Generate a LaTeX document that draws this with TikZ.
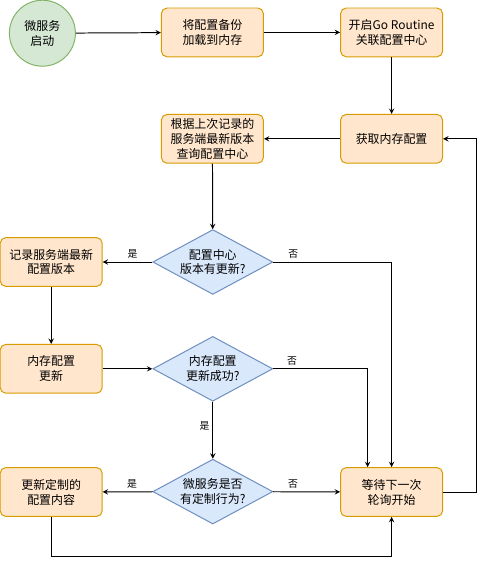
\documentclass[tikz,border=0pt]{standalone}
\usepackage{fontspec}
\setmainfont{Noto Sans CJK SC}
\usetikzlibrary{shapes.geometric}
\definecolor{boxfill}{HTML}{FFE6CC}
\definecolor{boxline}{HTML}{D79B00}
\definecolor{askfill}{HTML}{DAE8FC}
\definecolor{askline}{HTML}{6C8EBF}
\definecolor{startfill}{HTML}{D5E8D4}
\definecolor{startline}{HTML}{82B366}

\begin{document}
\begin{tikzpicture}[font=\fontsize{8.5}{10.6}\selectfont, >=stealth, line width=0.7pt,
  proc/.style={draw=boxline, fill=boxfill, rounded corners=4pt, align=center, minimum width=2.55cm, minimum height=1.22cm, inner sep=2pt},
  ask/.style={diamond, draw=askline, fill=askfill, align=center, aspect=1.85, inner sep=0pt, minimum width=3cm, minimum height=1.62cm},
  yn/.style={font=\fontsize{7}{8}\selectfont, inner sep=2pt}]
  \useasboundingbox (0,0) rectangle (12.1,-14.1);
  \node[circle, draw=startline, fill=startfill, minimum size=1.65cm, inner sep=0pt, align=center] (start) at (1.06,-0.83) {微服务\\启动};
  \node[proc] (load) at (5.31,-0.81) {将配置备份\\加载到内存};
  \node[proc] (gor) at (9.79,-0.81) {开启Go Routine\\关联配置中心};
  \node[proc] (fetch) at (9.79,-3.47) {获取内存配置};
  \node[proc] (query) at (5.31,-3.47) {根据上次记录的\\服务端最新版本\\查询配置中心};
  \node[ask] (dec1) at (5.32,-6.55) {配置中心\\版本有更新?};
  \node[proc] (rec) at (1.28,-6.55) {记录服务端最新\\配置版本};
  \node[proc] (upd) at (1.28,-9.22) {内存配置\\更新};
  \node[ask] (dec2) at (5.32,-9.22) {内存配置\\更新成功?};
  \node[ask] (dec3) at (5.32,-12.29) {微服务是否\\有定制行为?};
  \node[proc] (cust) at (1.28,-12.3) {更新定制的\\配置内容};
  \node[proc] (wait) at (9.79,-12.3) {等待下一次\\轮询开始};
  \coordinate (low) at (1.28,-13.92);
  \coordinate (loop) at (11.9,-12.3);
  \draw[->] (start) -- (load);
  \draw[->] (load) -- (gor);
  \draw[->] (gor) -- (fetch);
  \draw[->] (fetch) -- (query);
  \draw[->] (query) -- (dec1);
  \draw[->] (dec1) -- node[yn, above, pos=0.4]{是} (rec);
  \draw[->] (dec1.east) -| node[yn, above, pos=0.085]{否} (wait.north);
  \draw[->] (rec) -- (upd);
  \draw[->] (upd) -- (dec2);
  \draw[->] (dec2.east) -| node[yn, above, pos=0.1]{否} ([xshift=-0.6cm]wait.north);
  \draw[->] (dec2) -- node[yn, left, pos=0.43]{是} (dec3);
  \draw[->] (dec3) -- node[yn, above, pos=0.41]{是} (cust);
  \draw[->] (dec3) -- node[yn, above, pos=0.3]{否} (wait);
  \draw[->] (cust.south) -- (low) -| (wait.south);
  \draw[->] (wait.east) -- (loop) |- (fetch.east);
\end{tikzpicture}
\end{document}
